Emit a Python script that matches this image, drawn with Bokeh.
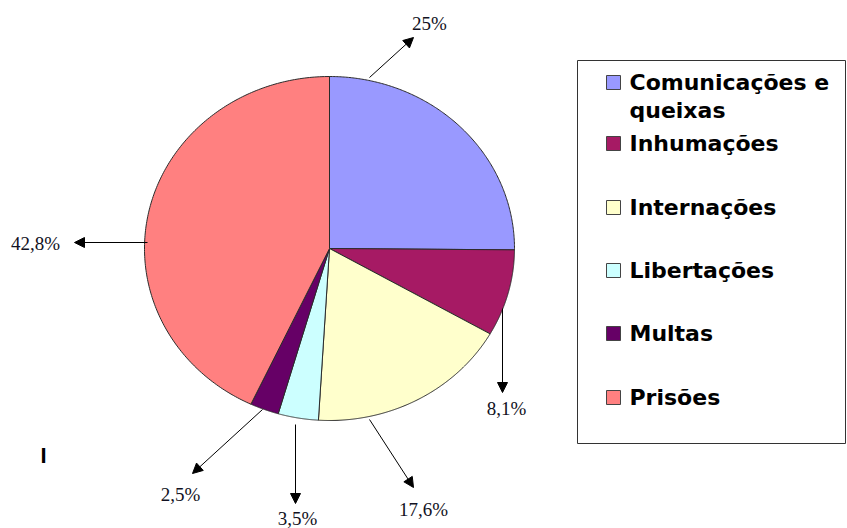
import numpy as np
from bokeh.plotting import figure
from bokeh.models import Range1d, Arrow, NormalHead, ColumnDataSource
from bokeh.core.properties import value
from bokeh.embed import file_html
from bokeh.resources import INLINE

# ---- data ----
categories = ["Comunicações e queixas", "Inhumações", "Internações",
              "Libertações", "Multas", "Prisões"]
legend_lines = [["Comunicações e", "queixas"], ["Inhumações"], ["Internações"],
                ["Libertações"], ["Multas"], ["Prisões"]]
percent = [25.0, 8.1, 17.6, 3.5, 2.5, 42.8]
colors = ["#9999FF", "#A61A64", "#FFFFCC", "#CCFFFF", "#660066", "#FF8080"]

# ---- layout (pixel-space data coordinates, y downward) ----
W, H = 847, 528
CX, CY, RX, RY = 329, 248, 185, 172
label_pos = [(429, 23), (506, 408), (423, 509), (297, 518), (180, 494), (35, 243)]
arrow_start = [(369, 77), (502, 308), (369, 419), (295, 424), (262, 409), (147, 242)]
arrow_end = [(413, 37), (502, 392), (413, 487), (295, 503), (192, 473), (74, 242)]
legend_y = [82, 143, 207, 270, 333, 397]
line_gap = 28

p = figure(width=W, height=H, x_range=Range1d(0, W), y_range=Range1d(H, 0),
           output_backend="svg", toolbar_location=None, min_border=0,
           x_axis_location=None, y_axis_location=None)
p.grid.visible = False
p.outline_line_color = None
p.background_fill_color = "white"
p.border_fill_color = "white"

# pie (ellipse) wedges, clockwise from top
frac = np.array(percent) / sum(percent)
cum = np.concatenate([[0.0], np.cumsum(frac)])
xs, ys = [], []
for i in range(len(percent)):
    t = np.linspace(cum[i], cum[i + 1], 200) * 2 * np.pi
    xs.append([CX] + list(CX + RX * np.sin(t)))
    ys.append([CY] + list(CY - RY * np.cos(t)))
p.patches(xs=xs, ys=ys, fill_color=colors, line_color="#2b2b2b", line_width=1)

# percentage labels
labels = [f"{v:g}".replace(".", ",") + "%" for v in percent]
p.text(x=[q[0] for q in label_pos], y=[q[1] for q in label_pos], text=labels,
       text_font=value("Liberation Serif"), text_font_size="19px",
       text_align="center", text_baseline="middle", text_color="#111122")

# arrows
asrc = ColumnDataSource(dict(x0=[a[0] for a in arrow_start], y0=[a[1] for a in arrow_start],
                             x1=[a[0] for a in arrow_end], y1=[a[1] for a in arrow_end]))
p.add_layout(Arrow(source=asrc, x_start="x0", y_start="y0", x_end="x1", y_end="y1",
                   line_color="black", line_width=1,
                   end=NormalHead(size=10, fill_color="black", line_color="black")))

# legend box
p.quad(left=[577], right=[845], top=[60], bottom=[443], fill_color=None,
       line_color="#333333", line_width=1)
p.rect(x=[613] * len(categories), y=legend_y, width=14, height=14,
       fill_color=colors, line_color="#444444", line_width=1)
tx, ty, tt = [], [], []
for yy, lines in zip(legend_y, legend_lines):
    for k, ln in enumerate(lines):
        tx.append(629)
        ty.append(yy + k * line_gap)
        tt.append(ln)
p.text(x=tx, y=ty, text=tt, text_font=value("DejaVu Sans"), text_font_style="bold",
       text_font_size="22px", text_align="left", text_baseline="middle", text_color="black")

# stray mark
p.text(x=[43], y=[455], text=["I"], text_font=value("Liberation Sans"), text_font_style="bold",
       text_font_size="22px", text_align="center", text_baseline="middle", text_color="black")

open("out.html", "w").write(file_html(p, INLINE))
